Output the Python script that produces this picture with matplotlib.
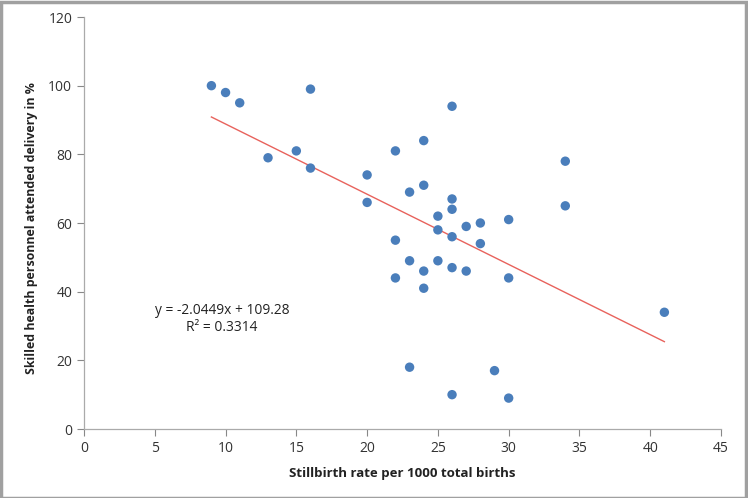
import matplotlib
matplotlib.use("Agg")
import matplotlib.pyplot as plt
from matplotlib.patches import Rectangle

stillbirth_rate = [9, 10, 11, 16, 13, 15, 16, 20, 20, 22, 24, 26, 22, 22, 23, 24, 23, 23,
                   24, 24, 25, 25, 25, 26, 26, 26, 26, 26, 27, 27, 28, 28, 29, 30, 30, 30,
                   34, 34, 41]
skilled_pct = [100, 98, 95, 99, 79, 81, 76, 74, 66, 81, 84, 94, 55, 44, 69, 71, 49, 18,
               46, 41, 62, 58, 49, 67, 64, 56, 47, 10, 59, 46, 60, 54, 17, 61, 44, 9,
               78, 65, 34]
slope = -2.0449
intercept = 109.28
r_squared = 0.3314
x_ticks = [0, 5, 10, 15, 20, 25, 30, 35, 40, 45]
y_ticks = [0, 20, 40, 60, 80, 100, 120]

plt.rcParams['font.family'] = ['Open Sans', 'DejaVu Sans']

fig = plt.figure(figsize=(7.48, 4.98), dpi=100)
ax = fig.add_axes([84/748, 69/498, (721-84)/748, (429-17)/498])

ax.scatter(stillbirth_rate, skilled_pct, s=46, color='#4A7EBB', edgecolors='none', zorder=3)
x0, x1 = min(stillbirth_rate), max(stillbirth_rate)
ax.plot([x0, x1], [slope*x0 + intercept, slope*x1 + intercept], color='#E8625C', lw=1.0, zorder=2)

ax.set_xlim(0, 45)
ax.set_ylim(0, 120)
ax.set_xticks(x_ticks)
ax.set_yticks(y_ticks)
ax.tick_params(axis='both', labelsize=10, colors='#888888', labelcolor='#333333', length=5, width=0.8)
for s in ['top', 'right']:
    ax.spines[s].set_visible(False)
for s in ['left', 'bottom']:
    ax.spines[s].set_color('#AAAAAA')
    ax.spines[s].set_linewidth(0.9)

ax.set_xlabel('Stillbirth rate per 1000 total births', fontsize=9.5, fontweight='bold', color='#222222', labelpad=8)
ax.set_ylabel('Skilled health personnel attended delivery in %', fontsize=8.9, fontweight='bold', color='#222222')
ax.yaxis.set_label_coords(-0.072, 0.488)

ax.text(9.75, 34.4, f'y = {slope}x + {intercept}', ha='center', va='center', fontsize=9.9, color='#222222')
ax.text(9.75, 29.7, f'R² = {r_squared}', ha='center', va='center', fontsize=9.9, color='#222222')

fig.patches.append(Rectangle((0.001, 0.001), 0.996, 0.995, transform=fig.transFigure,
                             fill=False, edgecolor='#A0A0A0', lw=2.5))

fig.savefig('out.png', dpi=100)
